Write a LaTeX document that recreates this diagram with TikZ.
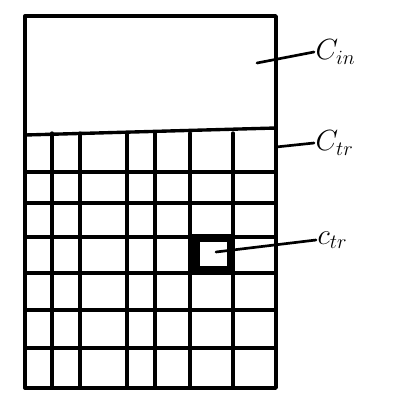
\documentclass[tikz,border=0pt]{standalone}
\usepackage{tikz}
\usetikzlibrary{positioning}

\begin{document}
\begin{tikzpicture}[
    x=0.025cm, y=-0.025cm,
    cellline/.style={line width=2.3pt, line cap=round},
    frameline/.style={line width=2.4pt, line cap=round, line join=round},
    markcell/.style={line width=5.5pt},
    leader/.style={line width=1.9pt, line cap=round},
    lbl/.style={font=\huge, anchor=west, inner sep=1pt}
]
\useasboundingbox (0,0) rectangle (412,394);

% Outer frame and the band at the top
\draw[frameline] (25,16) rectangle (276,388);
\draw[frameline] (25,135) -- (276,128);

% Grid of cells
\foreach \gx in {52,80,127,155,190,233}
    \draw[cellline] (\gx,133) -- (\gx,388);
\foreach \gy in {172,203,237,273,310,348}
    \draw[cellline] (25,\gy) -- (276,\gy);

% Marked cell
\draw[markcell] (196,238) rectangle (231,270);

% Labels
\node[lbl] (cin) at (314,52) {$C_{in}$};
\node[lbl] (ctrbig) at (314,143) {$C_{tr}$};
\node[lbl] (ctrsmall) at (316,240) {$c_{tr}$};

\coordinate (inpt) at (257,63);
\coordinate (trpt) at (276,147);
\coordinate (cellpt) at (216,252);

% Leader lines
\draw[leader] (inpt) -- (cin.west);
\draw[leader] (trpt) -- (ctrbig.west);
\draw[leader] (cellpt) -- (ctrsmall.west);

\end{tikzpicture}
\end{document}
